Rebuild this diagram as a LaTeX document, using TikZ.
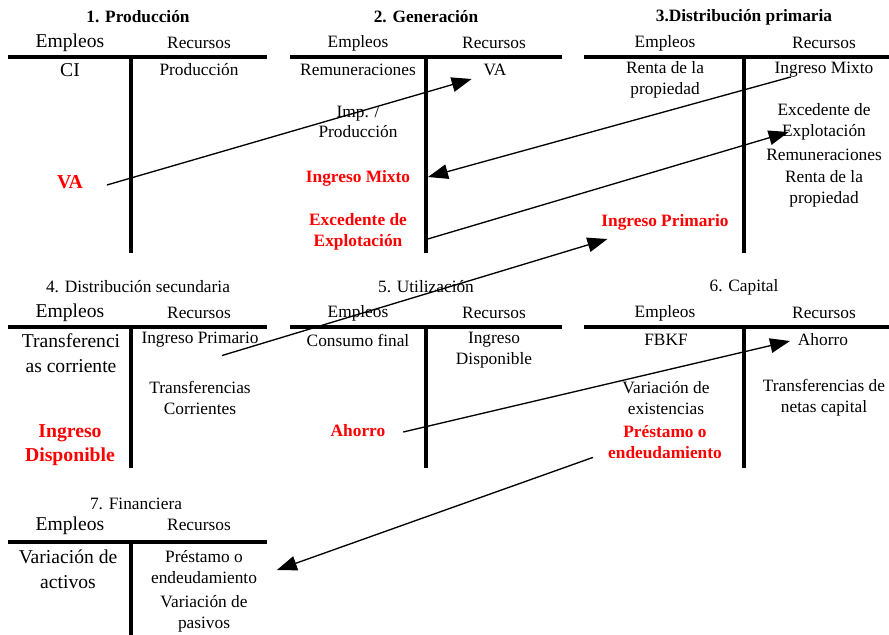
\documentclass[tikz,border=0pt]{standalone}
\usepackage{fontspec}
\setmainfont{Liberation Serif}
\usepackage{xcolor}
\usepackage{tikz}
\usetikzlibrary{arrows.meta}
\tikzstyle{tsText} = [
    text=black,
    font=\fontsize{13}{15.5}\selectfont,
    align=center,
    inner sep=2pt
]
\tikzstyle{tsBig} = [
    tsText,
    font=\fontsize{14.7}{18.5}\selectfont
]
\tikzstyle{tsTitle} = [
    tsText,
    font=\fontsize{13}{15.5}\selectfont\bfseries
]
\tikzstyle{tsRed} = [
    tsText,
    text=red,
    font=\fontsize{13}{15.5}\selectfont\bfseries
]
\tikzstyle{tsRedBig} = [
    tsRed,
    font=\fontsize{14.8}{18}\selectfont\bfseries
]
\tikzstyle{tsBar} = [
    draw=black,
    line width=3pt]
\tikzstyle{tsArrow} = [
    -{Triangle[length=15pt,width=11pt]},
    draw=black,
    line width=1pt]

\begin{document}
\begin{tikzpicture}[x=0.75pt, y=-0.75pt]
        \useasboundingbox (0,0) rectangle (889,635);

        % 1. Produccion
        \node[tsTitle] (tProd) at (138,17) {1. Producción};
        \node[tsBig]  (eProd) at (70,43) {Empleos};
        \node[tsText] (rProd) at (199,43) {Recursos};
        \draw[tsBar] (8,57) -- (267,57);
        \draw[tsBar] (131,57) -- (131,253);
        \node[tsBig]  (ciProd) at (70,70) {CI};
        \node[tsText] (prProd) at (199,70) {Producción};
        \node[tsRedBig] (vaProd) at (70,182) {VA};

        % 2. Generacion
        \node[tsTitle] (tGen) at (426,17) {2. Generación};
        \node[tsText] (eGen) at (358,43) {Empleos};
        \node[tsText] (rGen) at (494,43) {Recursos};
        \draw[tsBar] (290,57) -- (562,57);
        \draw[tsBar] (426,57) -- (426,253);
        \node[tsText] (remGen) at (358,70) {Remuneraciones};
        \node[tsText] (vaGen) at (495,70) {VA};
        \node[tsText] (impGen) at (358,122) {Imp. /\\Producción};
        \node[tsRed]  (imxGen) at (358,178) {Ingreso Mixto};
        \node[tsRed]  (excGen) at (358,232) {Excedente de\\Explotación};

        % 3. Distribucion primaria
        \node[tsTitle] (tDp) at (744,17) {3.Distribución primaria};
        \node[tsText] (eDp) at (665,43) {Empleos};
        \node[tsText] (rDp) at (824,43) {Recursos};
        \draw[tsBar] (584,57) -- (889,57);
        \draw[tsBar] (744,57) -- (744,253);
        \node[tsText] (rentaDp) at (665,80) {Renta de la\\propiedad};
        \node[tsText] (imxDp) at (824,70) {Ingreso Mixto};
        \node[tsText] (excDp) at (824,122) {Excedente de\\Explotación};
        \node[tsText] (remDp) at (824,155) {Remuneraciones};
        \node[tsText] (renta2Dp) at (824,189) {Renta de la\\propiedad};
        \node[tsRed]  (ipDp) at (665,222) {Ingreso Primario};

        % 4. Distribucion secundaria
        \node[tsText] (tDs) at (138,287) {4. Distribución secundaria};
        \node[tsBig]  (eDs) at (70,313) {Empleos};
        \node[tsText] (rDs) at (199,313) {Recursos};
        \draw[tsBar] (8,327) -- (267,327);
        \draw[tsBar] (131,327) -- (131,468);
        \node[tsBig]  (trDs) at (71,353) {Transferenci\\as corriente};
        \node[tsText] (ipDs) at (200,340) {Ingreso Primario};
        \node[tsText] (tcDs) at (200,398) {Transferencias\\Corrientes};
        \node[tsRedBig] (idDs) at (70,445) {Ingreso\\Disponible};

        % 5. Utilizacion
        \node[tsText] (tUt) at (426,287) {5. Utilización};
        \node[tsText] (eUt) at (358,313) {Empleos};
        \node[tsText] (rUt) at (494,313) {Recursos};
        \draw[tsBar] (290,327) -- (562,327);
        \draw[tsBar] (426,327) -- (426,468);
        \node[tsText] (cfUt) at (358,340) {Consumo final};
        \node[tsText] (idUt) at (494,350) {Ingreso\\Disponible};
        \node[tsRed]  (ahUt) at (358,431) {Ahorro};

        % 6. Capital
        \node[tsText] (tCap) at (744,287) {6. Capital};
        \node[tsText] (eCap) at (665,313) {Empleos};
        \node[tsText] (rCap) at (824,313) {Recursos};
        \draw[tsBar] (584,327) -- (889,327);
        \draw[tsBar] (744,327) -- (744,468);
        \node[tsText] (fbkfCap) at (666,340) {FBKF};
        \node[tsText] (ahCap) at (823,340) {Ahorro};
        \node[tsText] (veCap) at (666,398) {Variación de\\existencias};
        \node[tsText] (tkCap) at (824,398) {Transferencias de\\netas capital};
        \node[tsRed]  (prCap) at (665,442) {Préstamo o\\endeudamiento};

        % 7. Financiera
        \node[tsText] (tFin) at (136,504) {7. Financiera};
        \node[tsBig]  (eFin) at (70,526) {Empleos};
        \node[tsText] (rFin) at (199,525) {Recursos};
        \draw[tsBar] (8,542) -- (267,542);
        \draw[tsBar] (131,542) -- (131,635);
        \node[tsBig]  (vaFin) at (68,569) {Variación de\\activos};
        \node[tsText] (prFin) at (204,567) {Préstamo o\\endeudamiento};
        \node[tsText] (vpFin) at (204,614) {Variación de\\pasivos};

        % flujos entre cuentas
        \draw[tsArrow] ([shift={(21,3)}]vaProd.east) -- ([shift={(-9,9)}]vaGen.west);
        \draw[tsArrow] ([shift={(19,7)}]imxDp.west) -- ([shift={(15,-1)}]imxGen.east);
        \draw[tsArrow] ([shift={(18,7)}]excGen.east) -- ([shift={(14,10)}]excDp.west);
        \draw[tsArrow] ([shift={(22,5)}]ipDs.south) -- ([shift={(9,17)}]ipDp.west);
        \draw[tsArrow] ([shift={(15,1)}]ahUt.east) -- ([shift={(-5,1)}]ahCap.west);
        \draw[tsArrow] ([shift={(-72,-4)}]prCap.south) -- ([shift={(17,3)}]prFin.east);

\end{tikzpicture}
\end{document}
